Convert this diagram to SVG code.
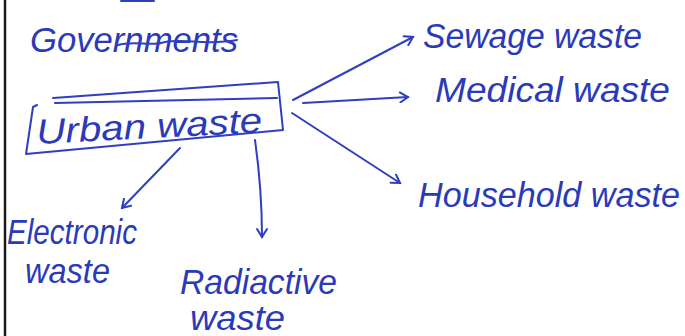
<svg xmlns="http://www.w3.org/2000/svg" width="685" height="336" viewBox="0 0 685 336">
<defs>
<style>
.ink{fill:none;stroke:#2f3fbf;stroke-width:2;stroke-linecap:round;stroke-linejoin:round}
.t{font-family:"Liberation Sans","DejaVu Sans",sans-serif;font-size:35px;fill:#2a3ab8;font-style:italic}
</style>
<marker id="ah" viewBox="0 0 12 12" refX="10" refY="6" markerWidth="12" markerHeight="12" markerUnits="userSpaceOnUse" orient="auto">
<path d="M2,1 L10,6 L2,11" fill="none" stroke="#2f3fbf" stroke-width="2" stroke-linecap="round"/>
</marker>
</defs>
<rect width="685" height="336" fill="#ffffff"/>
<line x1="5" y1="0" x2="5" y2="336" stroke="#1a1a1a" stroke-width="2.5"/>
<path class="ink" d="M121,1 L154,1"/>
<g id="governments">
<text class="t" x="30" y="52" textLength="208" lengthAdjust="spacingAndGlyphs">Governments</text>
<path class="ink" d="M118,45 C135,40 150,47 165,42 C185,38 205,46 237,40" stroke-width="2.5"/>
</g>
<g id="urban-waste">
<path class="ink" d="M37,105 L33,107 L26,154 L283,130 L278,82 L53,98 M55,103 L277,98"/>
<text class="t" x="37" y="144" textLength="226" lengthAdjust="spacingAndGlyphs" transform="rotate(-3 37 144)">Urban waste</text>
</g>
<g id="sewage-waste">
<text class="t" x="423" y="48" textLength="219" lengthAdjust="spacingAndGlyphs">Sewage waste</text>
</g>
<g id="medical-waste">
<text class="t" x="435" y="102" textLength="235" lengthAdjust="spacingAndGlyphs">Medical waste</text>
</g>
<g id="household-waste">
<text class="t" x="418" y="207" textLength="262" lengthAdjust="spacingAndGlyphs">Household waste</text>
</g>
<g id="electronic-waste">
<text class="t" x="7" y="244" textLength="130" lengthAdjust="spacingAndGlyphs">Electronic</text>
<text class="t" x="25" y="283" textLength="85" lengthAdjust="spacingAndGlyphs">waste</text>
</g>
<g id="radioactive-waste">
<text class="t" x="180" y="294" textLength="157" lengthAdjust="spacingAndGlyphs">Radiactive</text>
<text class="t" x="190" y="330" textLength="95" lengthAdjust="spacingAndGlyphs">waste</text>
</g>
<g id="connectors">
<path class="ink" d="M293,100 L413,37" marker-end="url(#ah)"/>
<path class="ink" d="M303,103 L408,97" marker-end="url(#ah)"/>
<path class="ink" d="M292,113 L400,183" marker-end="url(#ah)"/>
<path class="ink" d="M180,148 L122,208" marker-end="url(#ah)"/>
<path class="ink" d="M255,140 Q262,190 262,237" marker-end="url(#ah)"/>
</g>
</svg>
